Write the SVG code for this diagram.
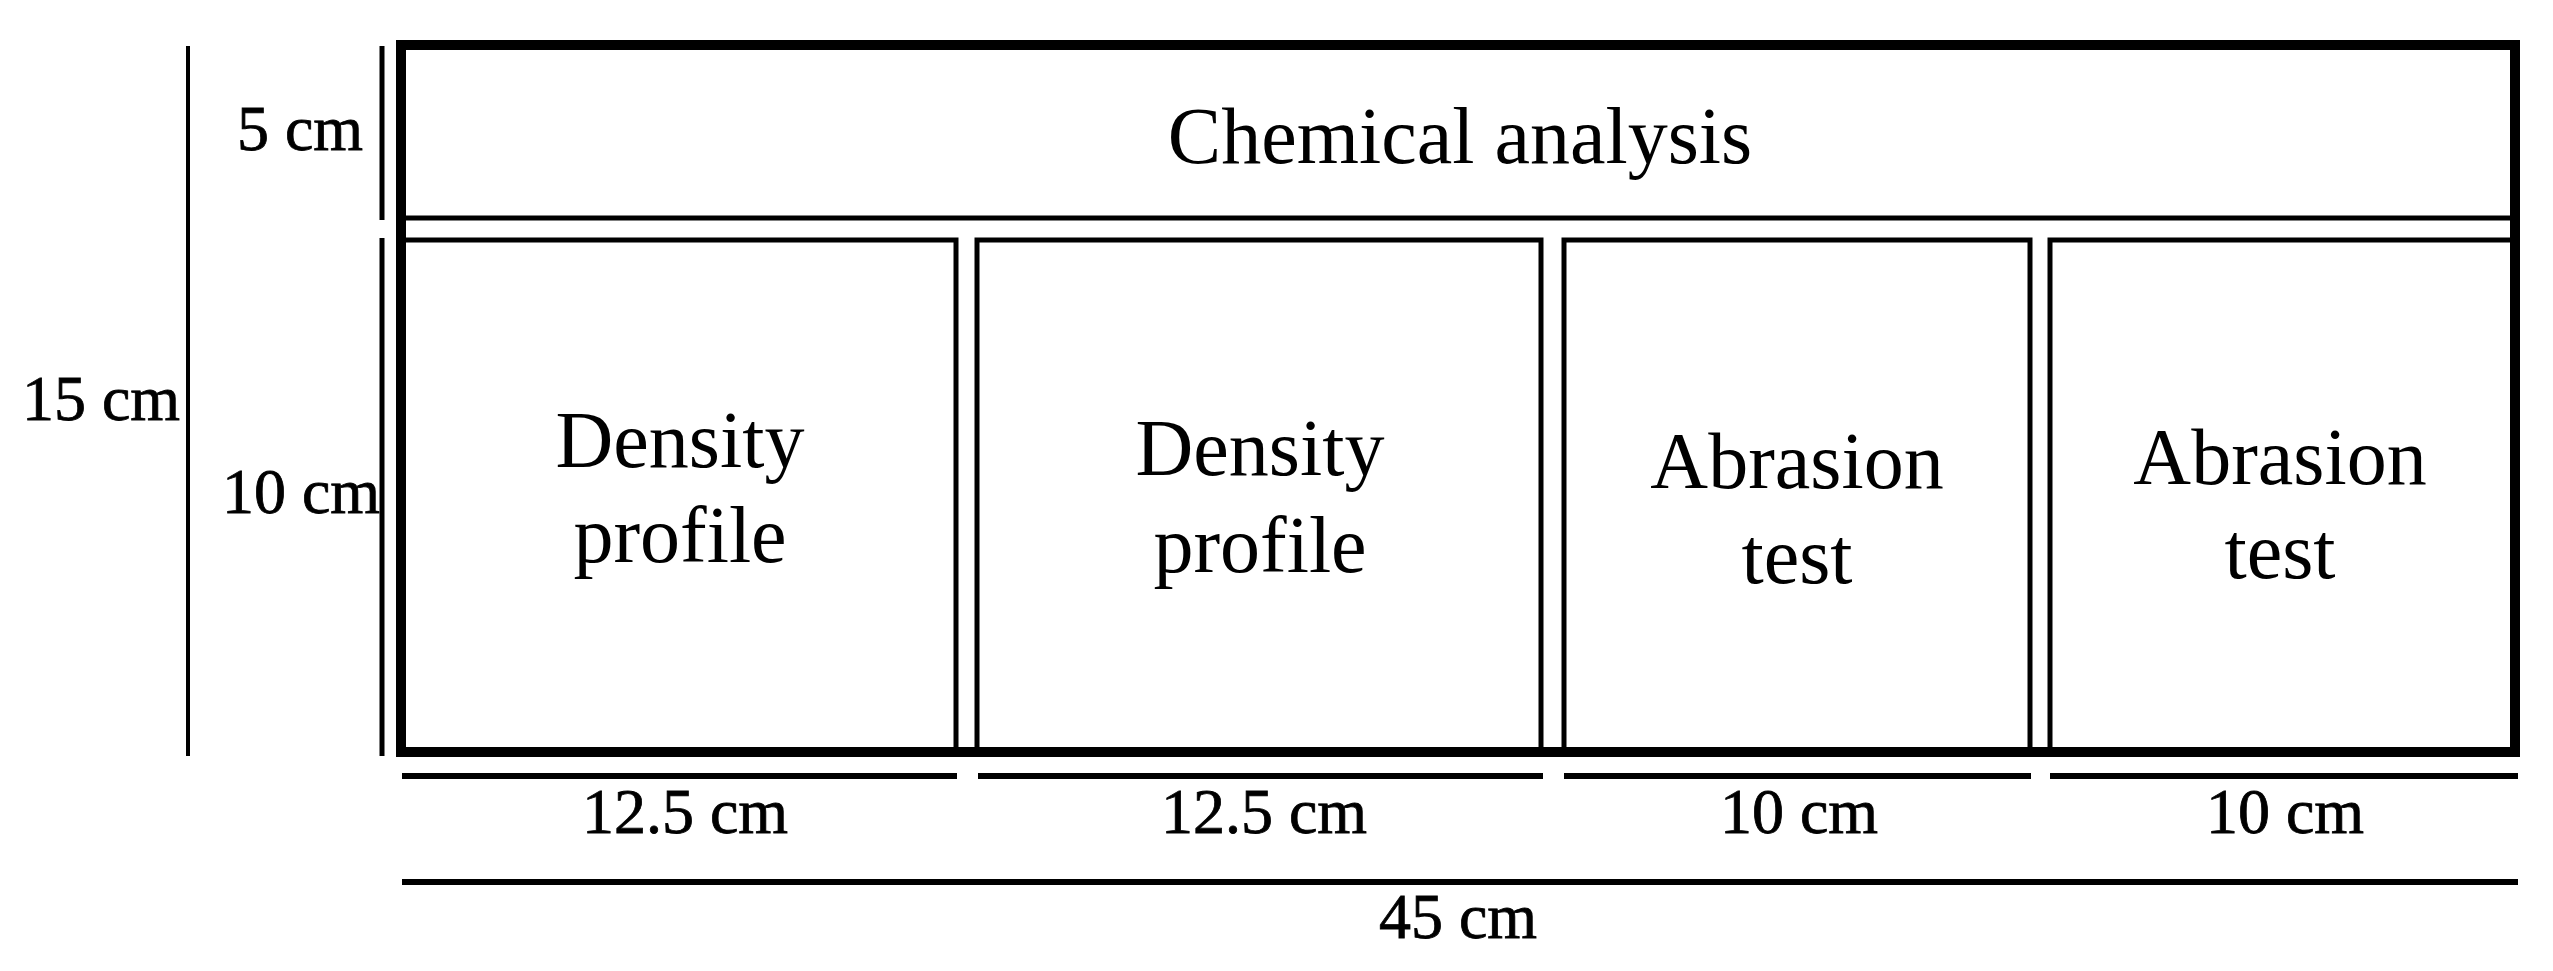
<svg xmlns="http://www.w3.org/2000/svg" width="2553" height="971" viewBox="0 0 2553 971">
<style>
.ln{stroke:#000;fill:none}
.big{font-family:"Liberation Serif","Times New Roman",serif;font-size:80px;fill:#000;text-anchor:middle}
.dim{font-family:"Liberation Serif","Times New Roman",serif;font-size:64px;fill:#000;stroke:#000;stroke-width:0.8;text-anchor:middle}
</style>
<rect width="2553" height="971" fill="#fff"/>
<g id="chemical">
<rect class="ln" x="403" y="46" width="2110" height="172" stroke-width="5"/>
<text class="big" x="1460" y="163">Chemical analysis</text>
</g>
<g id="density1">
<rect class="ln" x="403" y="240" width="553" height="512" stroke-width="5"/>
<text class="big" x="680" y="467">Density</text>
<text class="big" x="680" y="562">profile</text>
</g>
<g id="density2">
<rect class="ln" x="977" y="240" width="564" height="512" stroke-width="5"/>
<text class="big" x="1260" y="475">Density</text>
<text class="big" x="1260" y="572">profile</text>
</g>
<g id="abrasion1">
<rect class="ln" x="1564" y="240" width="466" height="512" stroke-width="5"/>
<text class="big" x="1797" y="488">Abrasion</text>
<text class="big" x="1797" y="583">test</text>
</g>
<g id="abrasion2">
<rect class="ln" x="2050" y="240" width="463" height="512" stroke-width="5"/>
<text class="big" x="2280" y="484">Abrasion</text>
<text class="big" x="2280" y="578">test</text>
</g>
<g id="frame">
<rect class="ln" x="401" y="45" width="2114" height="707" stroke-width="10"/>
</g>
<g id="dimensions">
<line class="ln" x1="188" y1="46" x2="188" y2="756" stroke-width="4"/>
<line class="ln" x1="382" y1="46" x2="382" y2="220" stroke-width="5"/>
<line class="ln" x1="382" y1="238" x2="382" y2="756" stroke-width="5"/>
<line class="ln" x1="402" y1="776" x2="957" y2="776" stroke-width="6"/>
<line class="ln" x1="978" y1="776" x2="1543" y2="776" stroke-width="6"/>
<line class="ln" x1="1564" y1="776" x2="2031" y2="776" stroke-width="6"/>
<line class="ln" x1="2050" y1="776" x2="2518" y2="776" stroke-width="6"/>
<line class="ln" x1="402" y1="882" x2="2518" y2="882" stroke-width="6"/>
<text class="dim" x="300" y="150">5 cm</text>
<text class="dim" x="101" y="420">15 cm</text>
<text class="dim" x="301" y="513">10 cm</text>
<text class="dim" x="685" y="833">12.5 cm</text>
<text class="dim" x="1264" y="833">12.5 cm</text>
<text class="dim" x="1799" y="833">10 cm</text>
<text class="dim" x="2285" y="833">10 cm</text>
<text class="dim" x="1458" y="938">45 cm</text>
</g>
</svg>
